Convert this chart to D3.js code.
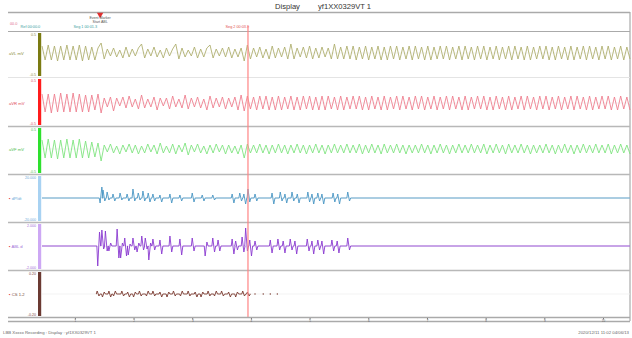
<!DOCTYPE html>
<html>
<head>
<meta charset="utf-8">
<script src="https://cdn.jsdelivr.net/npm/d3@7"></script>
<style>
  body { margin: 0; background: #fff; }
  svg { display: block; font-family: "Liberation Sans", Arial, sans-serif; }
</style>
</head>
<body>
<svg id="chart" width="632" height="338"></svg>
<script>
// ---- data ----
const titleText = ["Display", "yf1XX0329VT 1"];
const footerLeft = "LBB Xxxxx Recording : Display : yf1XX0329VT 1";
const footerRight = "2020/12/11 11:02  04/06/13";
const channelNames = ["aVL mV", "aVR mV", "aVF mV", "dP/dt", "ABL d", "CS 1-2"];
const scaleTop = ["0.5", "0.5", "0.5", "20.000", "2.000", "0.20"];
const scaleBottom = ["-0.5", "-0.5", "-0.5", "-20.000", "-2.000", "-0.20"];
const tickValues = [1, 2, 3, 4, 5, 6, 7, 8, 9, 10];
const tickLabels = ["1", "2", "3", "4", "5", "6", "7", "8", "9", "10"];
const timeDomain = [0.44, 10.46];
const cursorTime = 3.95;
const markerTime = 1.43;
const markerLabels = ["Event Marker", "Start ABL"];
const topLabels = [
  { t: 0.41, text: "Ref 00:00.0" },
  { t: 1.38, text: "Seg 1  00:01.3" },
  { t: 3.97, text: "Seg 2  00:03.9" }
];

// sinusoidal channels: value at each wave vertex (evenly spaced over the time domain)
const oliveWave = [
  7,-7,8,-7,7,-8,7,-7,8,-7, 7,-7,8,-8,7,-7,6,-7,5,10,
  -6,4,-3,5,-4,3,-5,6,-4,4, -3,5,9,-5,4,-3,6,-4,3,-5,
  5,-3,4,9,-6,5,-4,3,-3,6, -5,4,-4,5,8,-5,4,-3,5,-4,
  6,-5,4,-4,5,-8,8,-6,5,-4, 6,-5,4,-6,7,-5,5,-4,6,-6,
  9,-6,5,-4,6,-5,7,-6,5,-5, 6,-4,5,-6,9,-6,6,-6,7,-6,
  7,-7,6,-6,7,-7,6,-6,7,-7, 6,-7,7,-6,7,-7,6,-6,7,-7,
  7,-6,6,-7,7,-7,6,-6,7,-6, 7,-7,6,-6,7,-7,7,-6,6,-7,
  7,-6,7,-7,6,-6,7,-7,6,-6, 7,-7,7,-6,6,-7,7,-7,6,-6,
  7,-6,7,-7,6,-7,7,-6,6,-7, 7,-7,6,-6,7,-7,7,-6,6,-7,
  7,-6,7,-7,6,-6,7,-7,6,-6
];
const redWave = [
  9,-9,9,-10,9,-9,10,-9,9,-9, 10,-9,9,-9,8,-9,8,-7,9,-10,
  5,-4,6,-8,5,-3,6,-5,7,-4, 4,-6,8,-5,4,-4,6,-7,5,-3,
  5,-6,7,-4,4,-5,8,-6,5,-4, 6,-5,4,-7,7,-5,5,-4,6,-6,
  5,-4,6,-7,8,-8,7,-6,6,-7, 7,-6,7,-7,6,-7,7,-7,6,-6,
  7,-7,6,-7,7,-6,7,-7,6,-7, 7,-7,7,-6,6,-7,7,-7,6,-6,
  7,-6,7,-7,6,-7,7,-6,6,-7, 7,-7,6,-6,7,-7,7,-6,6,-7,
  7,-6,7,-7,6,-6,7,-7,6,-6, 7,-7,7,-6,6,-7,7,-7,6,-6,
  7,-6,7,-7,6,-7,7,-6,6,-7, 7,-7,6,-6,7,-7,7,-6,6,-7,
  7,-6,7,-7,6,-6,7,-7,6,-6, 7,-7,7,-6,6,-7,7,-7,6,-6,
  7,-6,7,-7,6,-7,7,-6,6,-7
];
const greenWave = [
  9,-9,10,-9,9,-10,9,-9,10,-9, 9,-9,10,-9,8,-9,7,-8,6,-12,
  4,-3,5,-4,3,-5,4,-3,5,-4, 4,-5,3,-4,5,-3,4,-5,6,-4,
  3,-4,5,-5,4,-3,6,-6,4,-3, 5,-4,3,-5,4,-4,5,-3,4,-5,
  4,-4,3,-5,4,-9,5,-4,4,-4, 5,-4,4,-5,4,-4,5,-4,4,-5,
  4,-4,5,-4,4,-5,4,-4,5,-4, 4,-5,4,-4,5,-4,4,-4,5,-4,
  4,-4,5,-5,4,-4,5,-4,4,-5, 5,-4,4,-4,5,-4,4,-5,4,-4,
  4,-4,5,-4,4,-5,4,-4,5,-4, 4,-5,4,-4,5,-4,4,-4,5,-4,
  4,-4,5,-5,4,-4,5,-4,4,-5, 5,-4,4,-4,5,-4,4,-5,4,-4,
  4,-4,5,-4,4,-5,4,-4,5,-4, 4,-5,4,-4,5,-4,4,-4,5,-4,
  4,-4,5,-5,4,-4,5,-4,4,-5
];

// spiky channels: spike times and the two deflections of each spike
const blueSpikeT = [1.43,1.48,1.55,1.65,1.77,1.89,1.99,2.08,2.16,2.25,2.33,2.45,2.62,2.79,3.00,3.17,3.35,
  3.68,3.81,3.88,3.95,4.07,4.36,4.50,4.58,4.70,4.79,4.97,5.04,5.14,5.21,5.40,5.48,5.65];
const blueSpikeA = [-5,8,6,4,5,4,9,5,7,5,4,3,4,3,5,3,3,4,5,4,9,4,5,6,4,6,4,6,4,5,4,5,4,6];
const blueSpikeB = [11,-3,-2,-3,-2,-3,-3,-2,-3,-4,-3,-4,-5,-3,-4,-3,-2,-5,-3,-6,-4,-3,-6,-3,-5,-3,-5,-4,-6,-3,-6,-4,-6,-3];

const purpleSpikeT = [1.39,1.46,1.52,1.58,1.72,1.78,1.85,1.91,1.99,2.06,2.14,2.20,2.26,2.33,2.45,2.62,2.79,3.00,
  3.22,3.35,3.44,3.68,3.74,3.85,3.91,3.98,4.07,4.33,4.46,4.55,4.67,4.75,4.96,5.04,5.14,5.21,5.38,5.47,5.65];
const purpleSpikeA = [-20,16,15,-5,17,-12,8,-9,8,-6,10,8,-14,7,6,10,7,8,-10,8,6,7,5,9,18,6,5,6,7,5,7,5,7,5,6,5,6,5,8];
const purpleSpikeB = [14,-3,-5,3,-12,3,-10,2,-4,3,-4,-3,3,-4,-8,-6,-9,-5,4,-6,-5,-8,-4,-6,-5,-10,-4,-7,-4,-7,-4,-8,-5,-8,-4,-8,-5,-7,-4];

const brownSpikeT = [1.38,1.47,1.58,1.66,1.80,1.90,2.00,2.10,2.22,2.33,2.45,2.57,2.68,2.80,2.93,
  3.05,3.15,3.27,3.38,3.50,3.62,3.74,3.86,3.94];
const brownSpikeA = [3,-3,3,-2,3,2,-3,3,-2,3,2,-3,3,-2,3,2,-3,3,-2,3,2,-3,3,2];
const brownSpikeB = [-2,2,-3,3,-2,-3,2,-2,3,-2,-3,2,-2,3,-2,-3,2,-2,3,-2,-3,2,-2,-2];
const brownDotsT = [4.07, 4.21, 4.33, 4.45];

// ---- layout ----
const plotLeft = 42, plotRight = 630, frameLeft = 8;
const panels = [
  { top: 31, bottom: 77, mid: 53, bar: "#7b7b12", line: "#b0b070", label: "#8d8d3c", sepColor: "#e4e4e4", sepW: 1 },
  { top: 77, bottom: 126, mid: 103, bar: "#ff1c1c", line: "#ee8090", label: "#e05060", sepColor: "#b8b8b8", sepW: 1.6 },
  { top: 126, bottom: 174, mid: 149, bar: "#2ee02e", line: "#80e480", label: "#50c050", sepColor: "#b8b8b8", sepW: 1.6 },
  { top: 174, bottom: 222, mid: 198, bar: "#a8d2f2", line: "#4a96c4", label: "#6aaad8", sepColor: "#b8b8b8", sepW: 1.6 },
  { top: 222, bottom: 270, mid: 246, bar: "#cda8f4", line: "#8a3ad0", label: "#a070d8", sepColor: "#b8b8b8", sepW: 1.6 },
  { top: 270, bottom: 317, mid: 294, bar: "#6b3a32", line: "#7a3a30", label: "#7a4a40", sepColor: "#b8b8b8", sepW: 1.6 }
];

const svg = d3.select("#chart");
const x = d3.scaleLinear().domain(timeDomain).range([plotLeft, plotRight]);

// title
svg.append("text").attr("x", 275).attr("y", 8.5).attr("font-size", 7.6).attr("fill", "#333").text(titleText[0]);
svg.append("text").attr("x", 318).attr("y", 8.5).attr("font-size", 7.6).attr("fill", "#333").text(titleText[1]);

// frame lines
const frame = svg.append("g").attr("stroke", "#aaa").attr("fill", "none");
frame.append("line").attr("x1", frameLeft).attr("x2", plotRight).attr("y1", 12.5).attr("y2", 12.5).attr("stroke-width", 1.4);
frame.append("line").attr("x1", frameLeft).attr("x2", plotRight).attr("y1", 31.5).attr("y2", 31.5).attr("stroke-width", 1.2);
frame.append("line").attr("x1", plotRight).attr("x2", plotRight).attr("y1", 12).attr("y2", 321).attr("stroke-width", 1.2);

// marker row
const mk = svg.append("g");
mk.append("path")
  .attr("d", d3.symbol(d3.symbolTriangle, 18)())
  .attr("transform", `translate(${x(markerTime)},14.5) rotate(180)`)
  .attr("fill", "#e03030");
mk.selectAll("text.mk").data(markerLabels).join("text")
  .attr("class", "mk")
  .attr("x", x(markerTime)).attr("y", (d, i) => 19 + i * 3.6)
  .attr("text-anchor", "middle").attr("font-size", 3.6).attr("fill", "#555")
  .text(d => d);
mk.selectAll("text.tl").data(topLabels).join("text")
  .attr("class", "tl")
  .attr("x", d => x(d.t)).attr("y", 28)
  .attr("text-anchor", "end").attr("font-size", 3.8)
  .attr("fill", (d, i) => i === 2 ? "#e05050" : "#3aa0a0")
  .text(d => d.text);
mk.append("text").attr("x", 10).attr("y", 24.5).attr("font-size", 3.8).attr("fill", "#e07090").text("00.0");

// helpers
const waveLine = (arr, y) => {
  const vt = d3.scaleLinear().domain([0, arr.length - 1]).range(timeDomain);
  return d3.line().x((d, i) => x(vt(i))).y(d => y(d))(arr);
};
const spikeLine = (times, a, b, t0, t1, y) => {
  const pts = [[t0, 0]];
  times.forEach((t, i) => {
    pts.push([t - 0.015, 0], [t, a[i]], [t + 0.03, b[i]], [t + 0.05, 0]);
  });
  pts.push([t1, 0]);
  return d3.line().x(d => x(d[0])).y(d => y(d[1]))(pts);
};

const traces = [
  { kind: "wave", data: oliveWave },
  { kind: "wave", data: redWave },
  { kind: "wave", data: greenWave },
  { kind: "spike", t: blueSpikeT, a: blueSpikeA, b: blueSpikeB, t0: timeDomain[0], t1: timeDomain[1] },
  { kind: "spike", t: purpleSpikeT, a: purpleSpikeA, b: purpleSpikeB, t0: timeDomain[0], t1: timeDomain[1] },
  { kind: "spike", t: brownSpikeT, a: brownSpikeA, b: brownSpikeB, t0: 1.36, t1: 3.98 }
];

panels.forEach((p, k) => {
  const g = svg.append("g");
  const y = d3.scaleLinear().domain([-25, 25]).range([p.mid + 25, p.mid - 25]);
  // separator at the bottom of the panel
  if (k < panels.length - 1) {
    g.append("line").attr("x1", frameLeft).attr("x2", plotRight)
      .attr("y1", p.bottom + 0.5).attr("y2", p.bottom + 0.5)
      .attr("stroke", p.sepColor).attr("stroke-width", p.sepW);
  }
  // faint centre line
  g.append("line").attr("x1", plotLeft).attr("x2", plotRight)
    .attr("y1", y(0)).attr("y2", y(0)).attr("stroke", "#f0f0f0").attr("stroke-width", 0.8);
  // colour bar
  g.append("rect").attr("x", 38).attr("y", p.top + 2).attr("width", 3.2).attr("height", p.bottom - p.top - 3)
    .attr("fill", p.bar);
  // scale labels
  g.append("text").attr("x", 36).attr("y", p.top + 5).attr("text-anchor", "end")
    .attr("font-size", 3.6).attr("fill", p.label).text(scaleTop[k]);
  g.append("text").attr("x", 36).attr("y", p.bottom - 1.5).attr("text-anchor", "end")
    .attr("font-size", 3.6).attr("fill", p.label).text(scaleBottom[k]);
  // channel label
  const lab = g.append("text").attr("x", 9).attr("y", y(0) + 1.5).attr("font-size", 4.2);
  if (k >= 3) lab.append("tspan").attr("fill", "#e03030").text("\u25AA ");
  lab.append("tspan").attr("fill", p.label).text(channelNames[k]);
  // trace
  const tr = traces[k];
  const d = tr.kind === "wave" ? waveLine(tr.data, y) : spikeLine(tr.t, tr.a, tr.b, tr.t0, tr.t1, y);
  g.append("path").attr("d", d).attr("fill", "none").attr("stroke", p.line)
    .attr("stroke-width", 0.9).attr("stroke-linejoin", "round");
  if (k === 5) {
    g.selectAll("circle").data(brownDotsT).join("circle")
      .attr("cx", t => x(t)).attr("cy", y(0)).attr("r", 0.7).attr("fill", p.line);
  }
});

// cursor
svg.append("line").attr("x1", x(cursorTime)).attr("x2", x(cursorTime))
  .attr("y1", 26).attr("y2", 317).attr("stroke", "#ff8484").attr("stroke-width", 1.2);

// bottom time axis
const ax = svg.append("g");
ax.append("line").attr("x1", frameLeft).attr("x2", plotRight).attr("y1", 317.5).attr("y2", 317.5)
  .attr("stroke", "#aaa").attr("stroke-width", 1.4);
ax.append("line").attr("x1", frameLeft).attr("x2", plotRight).attr("y1", 321.5).attr("y2", 321.5)
  .attr("stroke", "#aaa").attr("stroke-width", 1.4);
const axis = d3.axisBottom(x).tickValues(tickValues).tickFormat((d, i) => tickLabels[i]).tickSize(1.5).tickPadding(0.5);
ax.append("g").attr("transform", "translate(0,318)").call(axis)
  .call(s => s.select(".domain").remove())
  .call(s => s.selectAll("line").attr("stroke", "#777"))
  .call(s => s.selectAll("text").attr("font-size", 3).attr("fill", "#666").attr("font-family", "Liberation Sans, Arial, sans-serif"));

// footer
svg.append("text").attr("x", 3).attr("y", 334).attr("font-size", 4.3).attr("fill", "#666").text(footerLeft);
svg.append("text").attr("x", 629).attr("y", 334).attr("text-anchor", "end").attr("font-size", 4.3).attr("fill", "#666").text(footerRight);
</script>
</body>
</html>
